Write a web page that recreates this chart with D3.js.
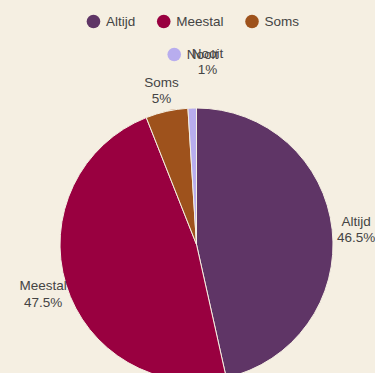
<!DOCTYPE html>
<html>
<head>
<meta charset="utf-8">
<script src="https://cdn.jsdelivr.net/npm/d3@7"></script>
<style>
	body { margin: 0; background: #f5efe2; }
	svg { display: block; font-family: "Liberation Sans", Arial, sans-serif; }
</style>
</head>
<body>
<svg id="chart" width="375" height="373"></svg>
<script>
var categories = ["Altijd", "Meestal", "Soms", "Nooit"];
var values = [46.5, 47.5, 5, 1];
var labels = ["46.5%", "47.5%", "5%", "1%"];
var colors = ["#5f3566", "#990040", "#9e521c", "#b8adee"];

var width = 375, height = 373;
var svg = d3.select("#chart");
var data = categories.map(function(c, i) {
	return { name: c, value: values[i], label: labels[i], color: colors[i] };
});

// legend
var legend = svg.append("g").attr("class", "legend");
var rows = [[0, 1, 2], [3]];
var legendCx = 193;
var gap = 22;
rows.forEach(function(row, ri) {
	var y = 21.5 + ri * 33;
	var g = legend.append("g");
	var x = 0;
	row.forEach(function(idx, k) {
		var item = g.append("g").attr("transform", "translate(" + x + ",0)");
		item.append("circle")
			.attr("cx", 6.5).attr("cy", 0).attr("r", 6.8)
			.attr("fill", data[idx].color);
		var t = item.append("text")
			.attr("x", 19).attr("y", 0).attr("dy", "0.35em")
			.attr("font-size", 13.5).attr("fill", "#444")
			.text(data[idx].name);
		x += 19 + t.node().getComputedTextLength() + gap;
	});
	x -= gap;
	g.attr("transform", "translate(" + (legendCx - x / 2) + "," + y + ")");
});

// pie
var r = 136.5, cx = 196.5, cy = 244.5;
var pie = d3.pie().sort(null).value(function(d) { return d.value; });
var arc = d3.arc().innerRadius(0).outerRadius(r);
var labelArc = d3.arc().innerRadius(r + 24).outerRadius(r + 24);
var arcs = pie(data);

var g = svg.append("g").attr("transform", "translate(" + cx + "," + cy + ")");
g.selectAll("path.slice")
	.data(arcs)
	.enter().append("path")
	.attr("class", "slice")
	.attr("d", arc)
	.attr("fill", function(d) { return d.data.color; })
	.attr("stroke", "#f5efe2")
	.attr("stroke-width", 1);

// label positions with simple overlap avoidance
var placed = [];
arcs.forEach(function(d) {
	var p = labelArc.centroid(d);
	placed.forEach(function(q) {
		if (Math.abs(p[0] - q[0]) < 40 && Math.abs(p[1] - q[1]) < 32) {
			p = [p[0] + 16, q[1] - 29];
		}
	});
	placed.push(p);
	var t = g.append("text")
		.attr("text-anchor", "middle")
		.attr("font-size", 13.5)
		.attr("fill", "#444")
		.attr("transform", "translate(" + p[0] + "," + p[1] + ")");
	t.append("tspan").attr("x", 0).attr("dy", "-0.1em").text(d.data.name);
	t.append("tspan").attr("x", 0).attr("dy", "1.2em").text(d.data.label);
});
</script>
</body>
</html>
